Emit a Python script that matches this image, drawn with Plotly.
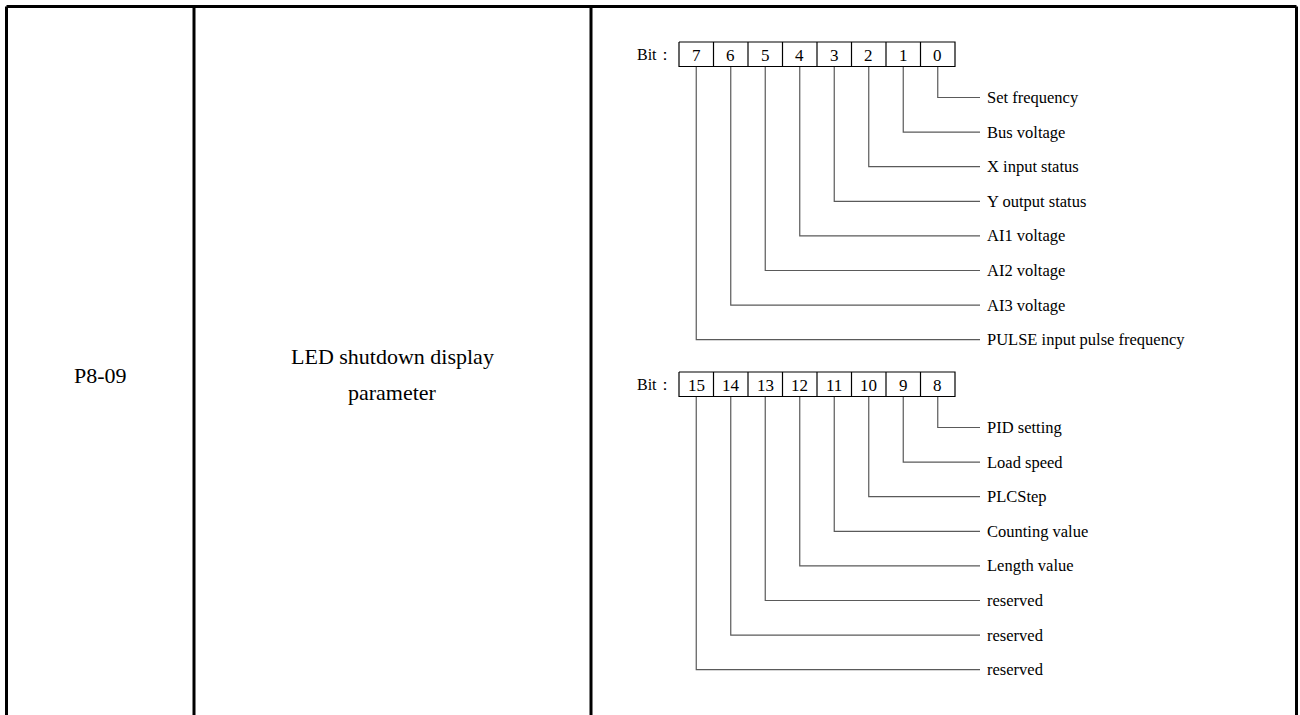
import plotly.graph_objects as go

# ---------------- data ----------------
param_code = "P8-09"
param_name = ["LED shutdown display", "parameter"]
bit_prefix = "Bit："
group_bits = [[7, 6, 5, 4, 3, 2, 1, 0], [15, 14, 13, 12, 11, 10, 9, 8]]
bit_labels = {
    0: "Set frequency",
    1: "Bus voltage",
    2: "X input status",
    3: "Y output status",
    4: "AI1 voltage",
    5: "AI2 voltage",
    6: "AI3 voltage",
    7: "PULSE input pulse frequency",
    8: "PID setting",
    9: "Load speed",
    10: "PLCStep",
    11: "Counting value",
    12: "Length value",
    13: "reserved",
    14: "reserved",
    15: "reserved",
}

# ---------------- layout constants ----------------
W, H = 1300, 715
FONT = "Liberation Serif, Times New Roman, serif"
tbl_left, tbl_top, tbl_right = 6.5, 6.5, 1296.5
col_div = [194, 591]
box_left = 679
cell_w = 34.5
cell_h = 24.5
group_top = [42, 372]
first_gap = 31
row_step = 34.6
line_end = 980
label_x = 985

fig = go.Figure()

# table frame (no bottom border - table continues)
tx, ty = [], []
for seg in [((tbl_left, H + 5), (tbl_left, tbl_top)),
            ((tbl_left, tbl_top), (tbl_right, tbl_top)),
            ((tbl_right, tbl_top), (tbl_right, H + 5))] + \
           [((c, tbl_top), (c, H + 5)) for c in col_div]:
    tx += [seg[0][0], seg[1][0], None]
    ty += [seg[0][1], seg[1][1], None]
fig.add_trace(go.Scatter(x=tx, y=ty, mode="lines",
                         line=dict(color="#000000", width=3),
                         hoverinfo="skip", showlegend=False))

bx, by = [], []
lx, ly = [], []
annotations = []
for g, bits in enumerate(group_bits):
    top = group_top[g]
    bot = top + cell_h
    n = len(bits)
    right = box_left + n * cell_w
    bx += [box_left, right, right, box_left, box_left, None]
    by += [top, top, bot, bot, top, None]
    for i in range(1, n):
        xv = box_left + i * cell_w
        bx += [xv, xv, None]
        by += [top, bot, None]
    annotations.append(dict(x=box_left - 4, y=(top + bot) / 2, text=bit_prefix,
                            xanchor="right", yanchor="middle", showarrow=False,
                            font=dict(family=FONT, size=16, color="#000")))
    for i, b in enumerate(bits):
        cx = box_left + (i + 0.5) * cell_w
        annotations.append(dict(x=cx, y=(top + bot) / 2 + 1, text=str(b),
                                xanchor="center", yanchor="middle", showarrow=False,
                                font=dict(family=FONT, size=17, color="#000")))
        k = n - 1 - i
        yv = bot + first_gap + k * row_step
        lx += [cx, cx, line_end, None]
        ly += [bot, yv, yv, None]
        annotations.append(dict(x=label_x, y=yv, text=bit_labels[b],
                                xanchor="left", yanchor="middle", showarrow=False,
                                font=dict(family=FONT, size=16.5, color="#000")))

fig.add_trace(go.Scatter(x=lx, y=ly, mode="lines",
                         line=dict(color="#5a5a5a", width=1.2),
                         hoverinfo="skip", showlegend=False))
fig.add_trace(go.Scatter(x=bx, y=by, mode="lines",
                         line=dict(color="#000000", width=1.2),
                         hoverinfo="skip", showlegend=False))

annotations.append(dict(x=(tbl_left + col_div[0]) / 2, y=375, text=param_code,
                        xanchor="center", yanchor="middle", showarrow=False,
                        font=dict(family=FONT, size=22, color="#000")))
for j, t in enumerate(param_name):
    annotations.append(dict(x=(col_div[0] + col_div[1]) / 2, y=356 + j * 36, text=t,
                            xanchor="center", yanchor="middle", showarrow=False,
                            font=dict(family=FONT, size=22, color="#000")))

fig.update_layout(
    width=W, height=H,
    margin=dict(l=0, r=0, t=0, b=0),
    paper_bgcolor="white", plot_bgcolor="white",
    xaxis=dict(range=[0, W], visible=False, fixedrange=True),
    yaxis=dict(range=[H, 0], visible=False, fixedrange=True),
    annotations=annotations,
    showlegend=False,
)
fig.write_html("out.html", config={"displayModeBar": False},
               post_script="document.body.style.margin='0';")
